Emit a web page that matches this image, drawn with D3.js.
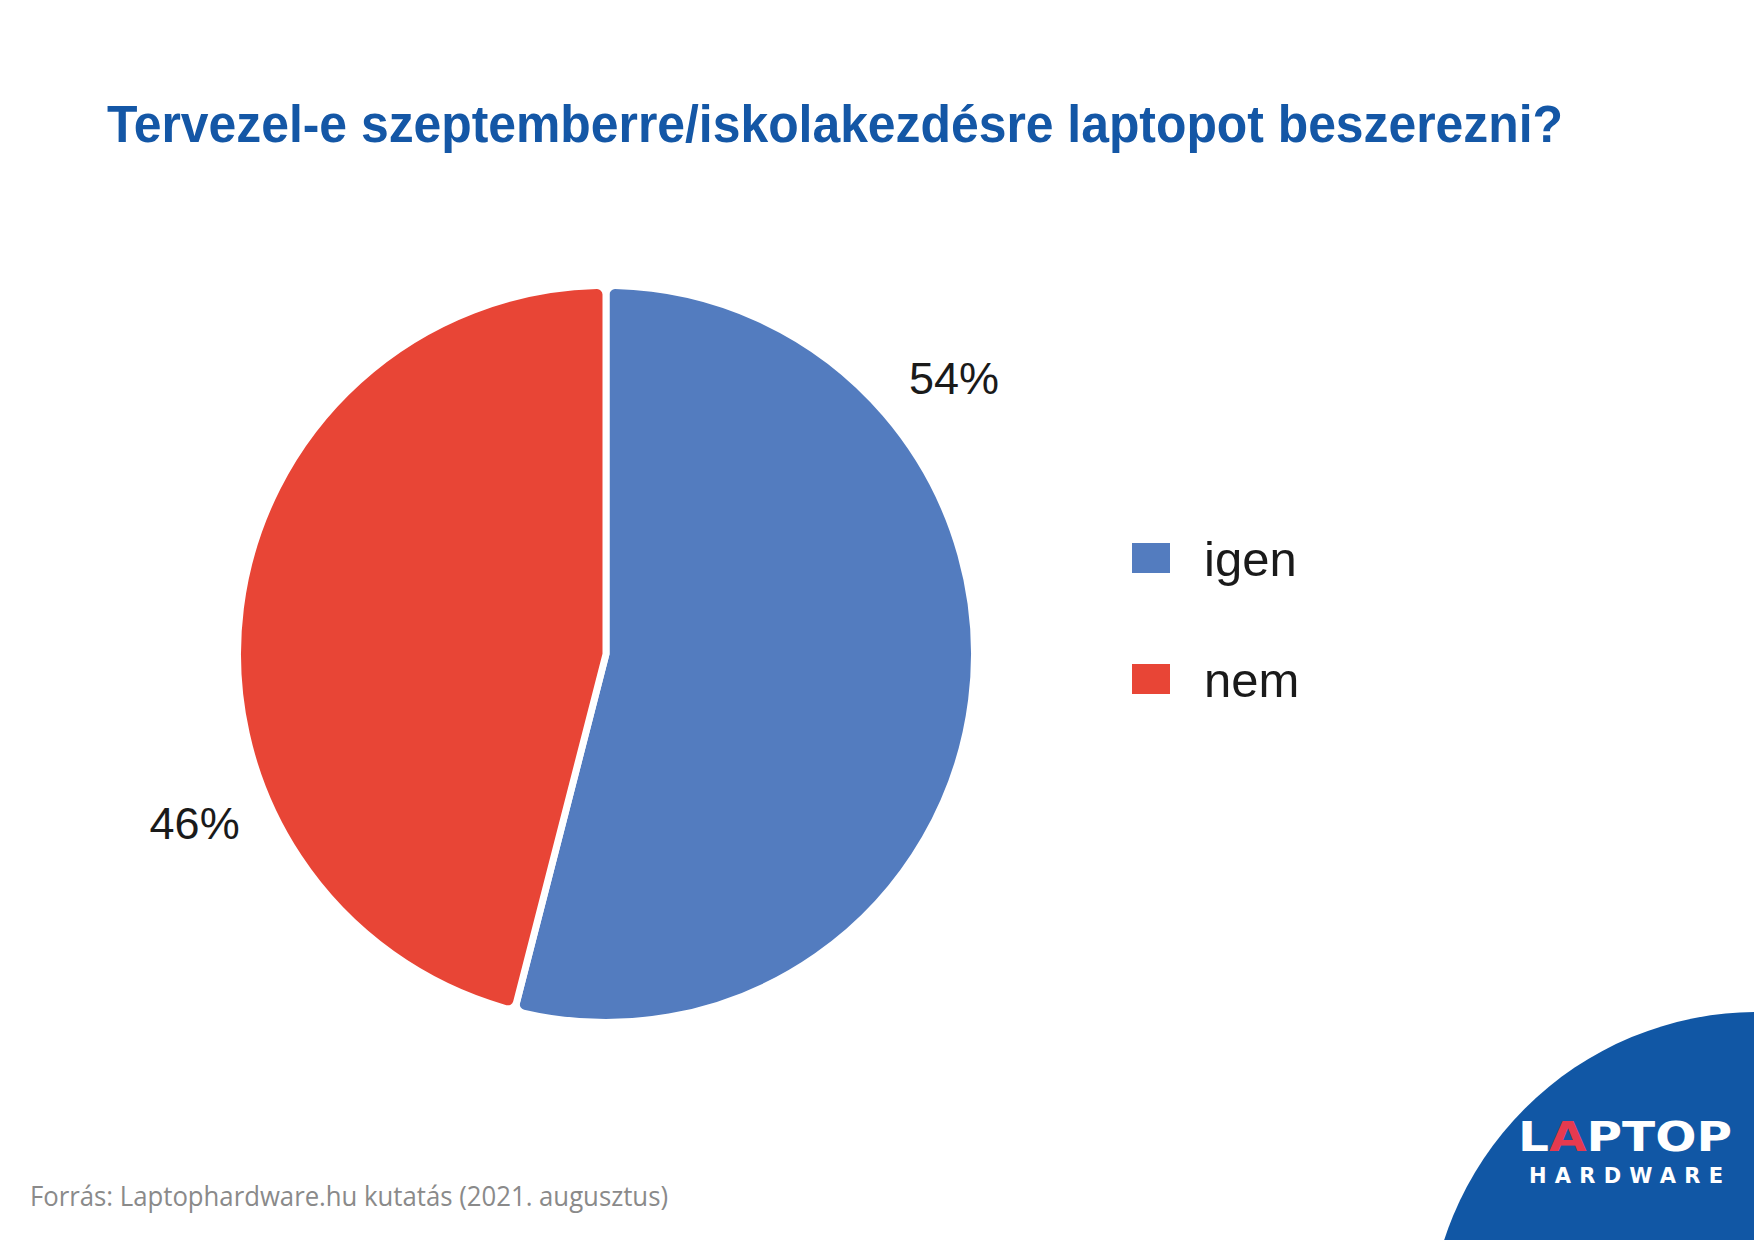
<!DOCTYPE html>
<html>
<head>
  <meta charset="utf-8">
  <script src="https://d3js.org/d3.v7.min.js"></script>
  <style>
    body { margin: 0; background: #fff; }
    svg { display: block; }
  </style>
</head>
<body>
<div id="chart"></div>
<script>

    // data
    const categories = ["igen", "nem"]
    const values = [54, 46]
    const colors = ["#537cbf", "#e84536"]

    const title = "Tervezel-e szeptemberre/iskolakezdésre laptopot beszerezni?"
    const source = "Forrás: Laptophardware.hu kutatás (2021. augusztus)"

    const width = 1754,
        height = 1240

    const pieCenter = { x: 606, y: 654 },
        radius = 365,
        gap = 7

    // where along each slice the percentage label sits (fraction of the slice)
    const labelPos = [0.265, 0.322]

    const svg = d3.select("#chart").append("svg")
        .attr("width", width)
        .attr("height", height)

    svg.append("rect")
        .attr("width", width)
        .attr("height", height)
        .attr("fill", "#fff")

    // title
    svg.append("text")
        .attr("x", 107)
        .attr("y", 142)
        .attr("font-family", "Liberation Sans, Arial, sans-serif")
        .attr("font-weight", "bold")
        .attr("font-size", 51)
        .attr("fill", "#1457a6")
        .attr("textLength", 1456)
        .attr("lengthAdjust", "spacingAndGlyphs")
        .text(title)

    // pie
    const data = categories.map((c, i) => ({ name: c, value: values[i], color: colors[i] }))

    const pie = d3.pie()
        .sort(null)
        .value(d => d.value)

    // white stroke makes an even gap between slices
    const arc = d3.arc()
        .innerRadius(0)
        .outerRadius(radius + gap / 2)
        .cornerRadius(9)

    const g = svg.append("g")
        .attr("transform", `translate(${pieCenter.x}, ${pieCenter.y})`)

    const arcs = pie(data)

    g.selectAll("path")
        .data(arcs)
        .enter().append("path")
        .attr("d", arc)
        .attr("fill", d => d.data.color)
        .attr("stroke", "#fff")
        .attr("stroke-width", gap)
        .attr("stroke-linejoin", "round")

    const labelR = radius * 1.218
    const labelAngle = (d, i) => d.startAngle + labelPos[i] * (d.endAngle - d.startAngle)

    g.selectAll("text.pct")
        .data(arcs)
        .enter().append("text")
        .attr("class", "pct")
        .attr("x", (d, i) => Math.sin(labelAngle(d, i)) * labelR)
        .attr("y", (d, i) => -Math.cos(labelAngle(d, i)) * labelR)
        .attr("dy", "0.36em")
        .attr("text-anchor", "middle")
        .attr("font-family", "Liberation Sans, Arial, sans-serif")
        .attr("font-size", 45)
        .attr("fill", "#1a1a1a")
        .text(d => d.data.value + "%")

    // legend
    const legendY = d3.scaleBand()
        .domain(categories)
        .range([498, 740])

    const legend = svg.append("g")

    const item = legend.selectAll("g")
        .data(data)
        .enter().append("g")
        .attr("transform", d => `translate(1132, ${legendY(d.name)})`)

    item.append("rect")
        .attr("x", 0)
        .attr("y", 45)
        .attr("width", 38)
        .attr("height", 30)
        .attr("fill", d => d.color)

    item.append("text")
        .attr("x", 72)
        .attr("y", 78)
        .attr("font-family", "Liberation Sans, Arial, sans-serif")
        .attr("font-size", 49)
        .attr("fill", "#1a1a1a")
        .text(d => d.name)

    // source
    svg.append("text")
        .attr("x", 30)
        .attr("y", 1206)
        .attr("font-family", "Open Sans, sans-serif")
        .attr("font-size", 28)
        .attr("fill", "#8a8a8a")
        .attr("textLength", 638)
        .attr("lengthAdjust", "spacingAndGlyphs")
        .text(source)

    // logo badge, bottom right
    svg.append("circle")
        .attr("cx", 1758)
        .attr("cy", 1342)
        .attr("r", 330)
        .attr("fill", "#1157a5")

    const logo = svg.append("text")
        .attr("x", 1518)
        .attr("y", 1151)
        .attr("font-family", "DejaVu Sans, sans-serif")
        .attr("font-weight", "bold")
        .attr("font-size", 40)
        .attr("fill", "#fff")
        .attr("textLength", 214)
        .attr("lengthAdjust", "spacingAndGlyphs")
    logo.append("tspan").text("L")
    logo.append("tspan").attr("fill", "#e63a4f").text("A")
    logo.append("tspan").text("PTOP")

    svg.append("text")
        .attr("x", 1529)
        .attr("y", 1183)
        .attr("font-family", "DejaVu Sans, sans-serif")
        .attr("font-weight", "bold")
        .attr("font-size", 21)
        .attr("fill", "#fff")
        .attr("textLength", 194)
        .attr("lengthAdjust", "spacing")
        .text("HARDWARE")

</script>
</body>
</html>
